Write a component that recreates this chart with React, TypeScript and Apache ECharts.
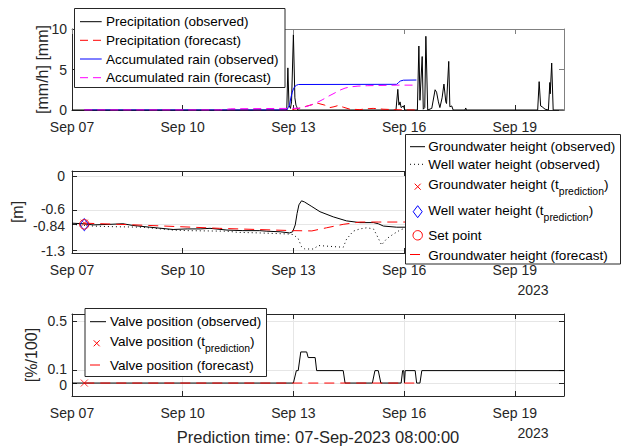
import React, { useEffect, useRef } from 'react';
import * as echarts from 'echarts';

const FF = '"Liberation Sans", Arial, Helvetica, sans-serif';
const DARK = '#262626';
const GREY = '#808080';
const GRIDC = '#e6e6e6';

// x values: days since 07-Sep-2023 00:00
const xTickDays = [0, 3, 6, 9, 12];
const xTickLabels = ['Sep 07', 'Sep 10', 'Sep 13', 'Sep 16', 'Sep 19'];
const xEnd = 13 + 1 / 3;
const tPrediction = 1 / 3;

// Panel 1: precipitation [mm/h] and accumulated rain [mm]
const precipObserved: number[][] = [
  [0, 0], [5.82, 0], [5.85, 5.2], [5.88, 0.6], [5.92, 0.2], [5.95, 1.0], [6.0, 9.3], [6.04, 1.5], [6.07, 0.6], [6.09, 0.4], [6.12, 0],
  [8.78, 0], [8.83, 2.55], [8.86, 0.6], [8.89, 1.0], [8.92, 0.3], [8.98, 0.5], [9.02, 0],
  [9.36, 0], [9.4, 7.9], [9.43, 1.2], [9.49, 6.6], [9.52, 0.1], [9.56, 0.3], [9.59, 9.1], [9.64, 0],
  [9.75, 0.2], [9.84, 2.5], [9.88, 2.2], [9.93, 1.0], [9.97, 0.3], [10.03, 1.5], [10.08, 3.2], [10.13, 1.0], [10.15, 0.8],
  [10.21, 6.0], [10.24, 0.4], [10.29, 0.5], [10.33, 0], [10.65, 0], [10.67, 0.25], [10.69, 0],
  [12.62, 0], [12.66, 3.5], [12.7, 0.5], [12.74, 0.4], [12.82, 0.1], [12.91, 0], [12.95, 3.4], [12.96, 2.0], [13.0, 5.8], [13.04, 0], [13.33, 0],
];
const precipForecast: number[][] = [
  [0.333, 0], [5.85, 0], [5.95, 0.05], [6.1, 0.15], [6.3, 0.4], [6.5, 0.65], [6.67, 0.82], [6.85, 0.6], [6.99, 0.3], [7.1, 0.4],
  [7.21, 0.55], [7.35, 0.35], [7.53, 0.1], [7.8, 0.05], [8.0, 0.15], [8.16, 0.2], [8.43, 0.1], [8.7, 0.05], [9.0, 0.02], [9.333, 0],
];
const accumObserved: number[][] = [
  [0.333, 0], [5.82, 0], [5.86, 0.3], [5.9, 0.7], [5.93, 1.5], [5.97, 2.2], [6.0, 2.6], [6.04, 2.9], [6.08, 3.05], [6.14, 3.15],
  [8.8, 3.17], [8.85, 3.4], [8.9, 3.58], [8.98, 3.68], [9.333, 3.7],
];
const accumForecast: number[][] = [
  [0.333, 0], [4.0, 0], [4.3, 0.15], [5.85, 0.2], [6.18, 0.22], [6.4, 0.5], [6.63, 0.9], [6.8, 1.3], [6.95, 1.7], [7.1, 2.05],
  [7.26, 2.45], [7.4, 2.7], [7.53, 2.85], [7.75, 2.95], [8.0, 3.0], [8.8, 3.07], [9.333, 3.07],
];

// Panel 2: heights [m]
const groundwaterObserved: number[][] = [
  [0, -0.82], [0.3, -0.83], [0.57, -0.85], [1.03, -0.84], [1.38, -0.83], [1.65, -0.86], [2.11, -0.89], [2.74, -0.93], [3.12, -0.92],
  [3.47, -0.92], [3.74, -0.91], [4.2, -0.94], [4.63, -0.95], [5.09, -0.95], [5.28, -0.96], [5.64, -0.97], [5.9, -0.99], [5.98, -0.97],
  [6.05, -0.85], [6.1, -0.65], [6.15, -0.5], [6.22, -0.43], [6.3, -0.45], [6.5, -0.53], [6.72, -0.62], [7.08, -0.71], [7.44, -0.78],
  [7.8, -0.81], [8.17, -0.81], [8.3, -0.83], [8.44, -0.87], [8.8, -0.89], [9.05, -0.89],
];
const wellObserved: number[][] = [
  [0, -0.84], [0.57, -0.87], [1.03, -0.88], [1.9, -0.89], [2.74, -0.94], [3.12, -0.95], [4.2, -0.96], [4.5, -0.98], [5.09, -0.99],
  [5.5, -1.0], [5.91, -1.01], [6.0, -1.02], [6.13, -1.09], [6.22, -1.23], [6.31, -1.27], [6.54, -1.27], [6.68, -1.21], [6.9, -1.22],
  [7.35, -1.24], [7.44, -1.1], [7.62, -0.96], [7.8, -0.92], [7.99, -0.9], [8.17, -0.92], [8.26, -1.03], [8.39, -1.2], [8.53, -1.09],
  [8.71, -1.01], [8.89, -0.94], [9.05, -0.9],
];
const groundwaterForecast: number[][] = [
  [0.333, -0.82], [1.5, -0.845], [2.5, -0.87], [4.0, -0.91], [5.0, -0.93], [6.0, -0.95], [6.5, -0.955], [6.9, -0.9], [7.35, -0.84],
  [7.8, -0.8], [8.3, -0.8], [9.333, -0.8],
];
const groundwaterAtPrediction = -0.82;
const wellAtPrediction = -0.845;
const setPoint = -0.84;
const heightTicks = [-1.3, -0.84, -0.6, 0];

// Panel 3: valve position [%/100]
const valveObserved: number[][] = [
  [0, 0], [6.0, 0], [6.08, 0.1], [6.13, 0.1], [6.2, 0.25], [6.36, 0.25], [6.4, 0.205], [6.59, 0.205], [6.63, 0.1], [7.35, 0.1],
  [7.4, 0], [8.14, 0], [8.21, 0.1], [8.3, 0.1], [8.37, 0], [8.92, 0], [8.96, 0.1], [8.99, 0.1], [9.01, 0], [9.03, 0.1], [9.3, 0.1],
  [9.34, 0], [9.43, 0], [9.48, 0.1], [13.333, 0.1],
];
const valveForecast: number[][] = [[0.333, 0], [9.333, 0]];
const valveAtPrediction = 0;
const valveTicks = [0, 0.1, 0.5];

function xFmt(v: number) {
  for (let i = 0; i < xTickDays.length; i++) if (Math.abs(v - xTickDays[i]) < 1e-6) return xTickLabels[i];
  return '';
}

const crossSymbol = 'path://M0,0L10,10M10,0L0,10';

function textWidth(s: string, size: number) {
  const ctx = document.createElement('canvas').getContext('2d');
  if (!ctx) return s.length * size * 0.55;
  ctx.font = `${size}px ${FF}`;
  return ctx.measureText(s).width;
}

const LFS = 13.5;
const SFS = 10.4;

function txt(x: number, y: number, s: string, size = LFS): any {
  return {
    type: 'text', x, y, z: 101,
    style: { text: s, font: `${size}px ${FF}`, fill: '#000', textAlign: 'left', textVerticalAlign: 'middle', align: 'left', verticalAlign: 'middle' },
  };
}
function label(x: number, y: number, main: string, sub?: string, after?: string): any[] {
  const out = [txt(x, y, main)];
  if (sub) {
    const w1 = textWidth(main, LFS);
    out.push(txt(x + w1, y + 7, sub, SFS));
    const w2 = textWidth(sub, SFS);
    if (after) out.push(txt(x + w1 + w2, y, after));
  }
  return out;
}
function sline(x1: number, x2: number, y: number, color: string, dash?: number[]): any {
  return { type: 'line', z: 101, shape: { x1, y1: y, x2, y2: y }, style: { stroke: color, lineWidth: 1, lineDash: dash || null } };
}
function cross(cx: number, cy: number, r: number, color: string): any[] {
  return [
    { type: 'line', z: 101, shape: { x1: cx - r, y1: cy - r, x2: cx + r, y2: cy + r }, style: { stroke: color, lineWidth: 1 } },
    { type: 'line', z: 101, shape: { x1: cx - r, y1: cy + r, x2: cx + r, y2: cy - r }, style: { stroke: color, lineWidth: 1 } },
  ];
}
function box(x: number, y: number, w: number, h: number): any {
  return { type: 'rect', z: 100, shape: { x, y, width: w, height: h }, style: { fill: '#fff', stroke: DARK, lineWidth: 1 } };
}

const DASH = [8, 5];
const DOT = [1, 3];

function buildGraphics(): any[] {
  const g: any[] = [];
  // top legend
  g.push(box(74.5, 8.5, 210.5, 79));
  const tx = 106;
  g.push(sline(80, 101.7, 21.7, '#000'));
  g.push(...label(tx, 21.7, 'Precipitation (observed)'));
  g.push(sline(80, 101.7, 40.3, '#ff0000', DASH));
  g.push(...label(tx, 40.3, 'Precipitation (forecast)'));
  g.push(sline(80, 101.7, 59, '#0000ff'));
  g.push(...label(tx, 59, 'Accumulated rain (observed)'));
  g.push(sline(80, 101.7, 77.7, '#ff00ff', DASH));
  g.push(...label(tx, 77.7, 'Accumulated rain (forecast)'));

  // middle legend
  g.push(box(405.5, 134.5, 215, 129.5));
  const mx = 428.3;
  g.push(sline(410, 425, 146.7, '#000'));
  g.push(...label(mx, 146.7, 'Groundwater height (observed)'));
  g.push(sline(410, 425, 164.3, '#000', DOT));
  g.push(...label(mx, 164.3, 'Well water height (observed)'));
  g.push(...cross(417.7, 186.7, 3, '#ff0000'));
  g.push(...label(mx, 184.3, 'Groundwater height (t', 'prediction', ')'));
  g.push({ type: 'polygon', z: 101, shape: { points: [[417.7, 205.7], [422.2, 211.7], [417.7, 217.7], [413.2, 211.7]] }, style: { fill: 'none', stroke: '#0000ff', lineWidth: 1 } });
  g.push(...label(mx, 210, 'Well water height (t', 'prediction', ')'));
  g.push({ type: 'circle', z: 101, shape: { cx: 417.7, cy: 235.3, r: 4.7 }, style: { fill: 'none', stroke: '#ff0000', lineWidth: 1 } });
  g.push(...label(mx, 235.3, 'Set point'));
  g.push(sline(410, 425, 254.5, '#ff0000', [10, 6]));
  g.push(...label(mx, 255, 'Groundwater height (forecast)'));

  // bottom legend
  g.push(box(85, 308.5, 181.5, 68));
  const bx = 110;
  g.push(sline(90, 106, 321.7, '#000'));
  g.push(...label(bx, 321.7, 'Valve position (observed)'));
  g.push(...cross(96.7, 343.3, 3, '#ff0000'));
  g.push(...label(bx, 341.7, 'Valve position (t', 'prediction', ')'));
  g.push(sline(90, 106, 365, '#ff0000', [10, 6]));
  g.push(...label(bx, 365, 'Valve position (forecast)'));

  // year labels
  for (const y of [290, 433]) {
    g.push({ type: 'text', x: 533, y, z: 50, style: { text: '2023', font: `14px ${FF}`, fill: DARK, textAlign: 'center', textVerticalAlign: 'middle', align: 'center', verticalAlign: 'middle' } });
  }
  return g;
}

function xAxes(): any[] {
  const res: any[] = [];
  for (let gIdx = 0; gIdx < 3; gIdx++) {
    const topColor = gIdx === 0 ? GREY : DARK;
    res.push({
      type: 'value', gridIndex: gIdx, position: 'bottom', min: 0, max: xEnd, interval: 3,
      axisLine: { show: true, onZero: false, lineStyle: { color: DARK, width: 1 } },
      axisTick: { show: true, inside: true, length: 5, lineStyle: { color: DARK } },
      axisLabel: { show: true, margin: 10, fontSize: 14, fontFamily: FF, color: DARK, formatter: xFmt, showMaxLabel: false },
      splitLine: { show: gIdx === 2, lineStyle: { color: GRIDC, width: 1 } },
      ...(gIdx === 2 ? {
        name: 'Prediction time: 07-Sep-2023 08:00:00', nameLocation: 'middle', nameGap: 32, nameMoveOverlap: false,
        nameTextStyle: { fontSize: 16.5, fontFamily: FF, color: DARK },
      } : {}),
    });
    res.push({
      type: 'value', gridIndex: gIdx, position: 'top', min: 0, max: xEnd, interval: 3,
      axisLine: { show: true, onZero: false, lineStyle: { color: topColor, width: 1 } },
      axisTick: { show: true, inside: true, length: 5, lineStyle: { color: topColor } },
      axisLabel: { show: false },
      splitLine: { show: false },
    });
  }
  return res;
}

// labels that sit very close to a neighbour are nudged apart by a pixel or two
const richBase = { fontSize: 14, fontFamily: FF, color: DARK };
const labelRich = {
  n: { ...richBase },
  u: { ...richBase, padding: [0, 0, 3, 0] },
  d: { ...richBase, padding: [3, 0, 0, 0] },
  u2: { ...richBase, padding: [0, 0, 4, 0] },
  d2: { ...richBase, padding: [4, 0, 0, 0] },
};
function heightFmt(v: number) {
  const s = String(v);
  if (Math.abs(v + 0.6) < 1e-9) return `{u|${s}}`;
  if (Math.abs(v + 0.84) < 1e-9) return `{d|${s}}`;
  return `{n|${s}}`;
}
function valveFmt(v: number) {
  const s = String(v);
  if (Math.abs(v - 0.1) < 1e-9) return `{u2|${s}}`;
  if (Math.abs(v) < 1e-9) return `{d2|${s}}`;
  return `{n|${s}}`;
}

function yAxes(): any[] {
  const ylab = { fontSize: 14, fontFamily: FF, color: DARK, hideOverlap: false, showMinLabel: true, showMaxLabel: true };
  const nameStyle = { fontSize: 16, fontFamily: FF, color: DARK };
  const tick = (c: string, custom?: number[]) => ({ show: true, inside: true, length: 5, lineStyle: { color: c }, ...(custom ? { customValues: custom } : {}) });
  return [
    {
      type: 'value', gridIndex: 0, position: 'left', min: 0, max: 10, interval: 5,
      axisLine: { show: true, onZero: false, lineStyle: { color: DARK } }, axisTick: tick(DARK),
      axisLabel: { ...ylab, margin: 5 }, splitLine: { show: false },
      name: '[mm/h] [mm]', nameLocation: 'middle', nameGap: 22, nameMoveOverlap: false, nameTextStyle: nameStyle,
    },
    {
      type: 'value', gridIndex: 0, position: 'right', min: 0, max: 10, interval: 5,
      axisLine: { show: true, onZero: false, lineStyle: { color: GREY } }, axisTick: tick(GREY),
      axisLabel: { show: false }, splitLine: { show: false },
    },
    {
      type: 'value', gridIndex: 1, position: 'left', min: -1.34, max: 0.09,
      axisLine: { show: true, onZero: false, lineStyle: { color: DARK } }, axisTick: tick(DARK, heightTicks),
      axisLabel: { ...ylab, margin: 7, customValues: heightTicks, formatter: heightFmt, rich: labelRich },
      splitLine: { show: true, lineStyle: { color: GRIDC } },
      name: '[m]', nameLocation: 'middle', nameGap: 47, nameMoveOverlap: false, nameTextStyle: nameStyle,
    },
    {
      type: 'value', gridIndex: 1, position: 'right', min: -1.34, max: 0.09,
      axisLine: { show: true, onZero: false, lineStyle: { color: DARK } }, axisTick: tick(DARK, heightTicks),
      axisLabel: { show: false }, splitLine: { show: false },
    },
    {
      type: 'value', gridIndex: 2, position: 'left', min: -0.104, max: 0.555,
      axisLine: { show: true, onZero: false, lineStyle: { color: DARK } }, axisTick: tick(DARK, valveTicks),
      axisLabel: { ...ylab, margin: 5, customValues: valveTicks, formatter: valveFmt, rich: labelRich },
      splitLine: { show: true, lineStyle: { color: GRIDC } },
      name: '[%/100]', nameLocation: 'middle', nameGap: 33, nameMoveOverlap: false, nameTextStyle: nameStyle,
    },
    {
      type: 'value', gridIndex: 2, position: 'right', min: -0.104, max: 0.555,
      axisLine: { show: true, onZero: false, lineStyle: { color: DARK } }, axisTick: tick(DARK, valveTicks),
      axisLabel: { show: false }, splitLine: { show: false },
    },
  ];
}

function lineSeries(name: string, data: number[][], xi: number, yi: number, color: string, type: any, width = 1): any {
  return {
    name, type: 'line', data, xAxisIndex: xi, yAxisIndex: yi, showSymbol: false, symbol: 'none',
    lineStyle: { color, width, type }, silent: true, animation: false,
  };
}
function markerSeries(name: string, x: number, y: number, xi: number, yi: number, symbol: string, size: any, color: string): any {
  return {
    name, type: 'scatter', data: [[x, y]], xAxisIndex: xi, yAxisIndex: yi, symbol, symbolSize: size, silent: true,
    itemStyle: { color: 'rgba(0,0,0,0)', borderColor: color, borderWidth: 1 }, z: 5,
  };
}

export default function App() {
  const ref = useRef<HTMLDivElement>(null);
  useEffect(() => {
    if (!ref.current) return;
    const chart = echarts.init(ref.current, undefined, { renderer: 'svg' });
    chart.setOption({
      animation: false,
      backgroundColor: '#fff',
      grid: [
        { left: 72, top: 29, width: 492, height: 81 },
        { left: 72, top: 171, width: 492, height: 82 },
        { left: 72, top: 314, width: 492, height: 82 },
      ],
      xAxis: xAxes(),
      yAxis: yAxes(),
      series: [
        lineSeries('Precipitation (observed)', precipObserved, 0, 0, '#000', 'solid'),
        lineSeries('Precipitation (forecast)', precipForecast, 0, 0, '#ff0000', DASH),
        lineSeries('Accumulated rain (observed)', accumObserved, 0, 0, '#0000ff', 'solid'),
        lineSeries('Accumulated rain (forecast)', accumForecast, 0, 0, '#ff00ff', DASH),
        lineSeries('Groundwater height (observed)', groundwaterObserved, 2, 2, '#000', 'solid'),
        lineSeries('Well water height (observed)', wellObserved, 2, 2, '#000', DOT),
        markerSeries('Groundwater height (t_prediction)', tPrediction, groundwaterAtPrediction, 2, 2, crossSymbol, 7, '#ff0000'),
        markerSeries('Well water height (t_prediction)', tPrediction, wellAtPrediction, 2, 2, 'diamond', [9, 12], '#0000ff'),
        markerSeries('Set point', tPrediction, setPoint, 2, 2, 'circle', 9.5, '#ff0000'),
        lineSeries('Groundwater height (forecast)', groundwaterForecast, 2, 2, '#ff0000', [10, 6]),
        lineSeries('Valve position (observed)', valveObserved, 4, 4, '#000', 'solid'),
        markerSeries('Valve position (t_prediction)', tPrediction, valveAtPrediction, 4, 4, crossSymbol, 7, '#ff0000'),
        lineSeries('Valve position (forecast)', valveForecast, 4, 4, '#ff0000', [10, 6]),
      ],
      graphic: buildGraphics(),
    });
    return () => chart.dispose();
  }, []);
  return <div ref={ref} style={{ position: 'fixed', left: 0, top: 0, width: 621, height: 447, background: '#fff' }} />;
}
